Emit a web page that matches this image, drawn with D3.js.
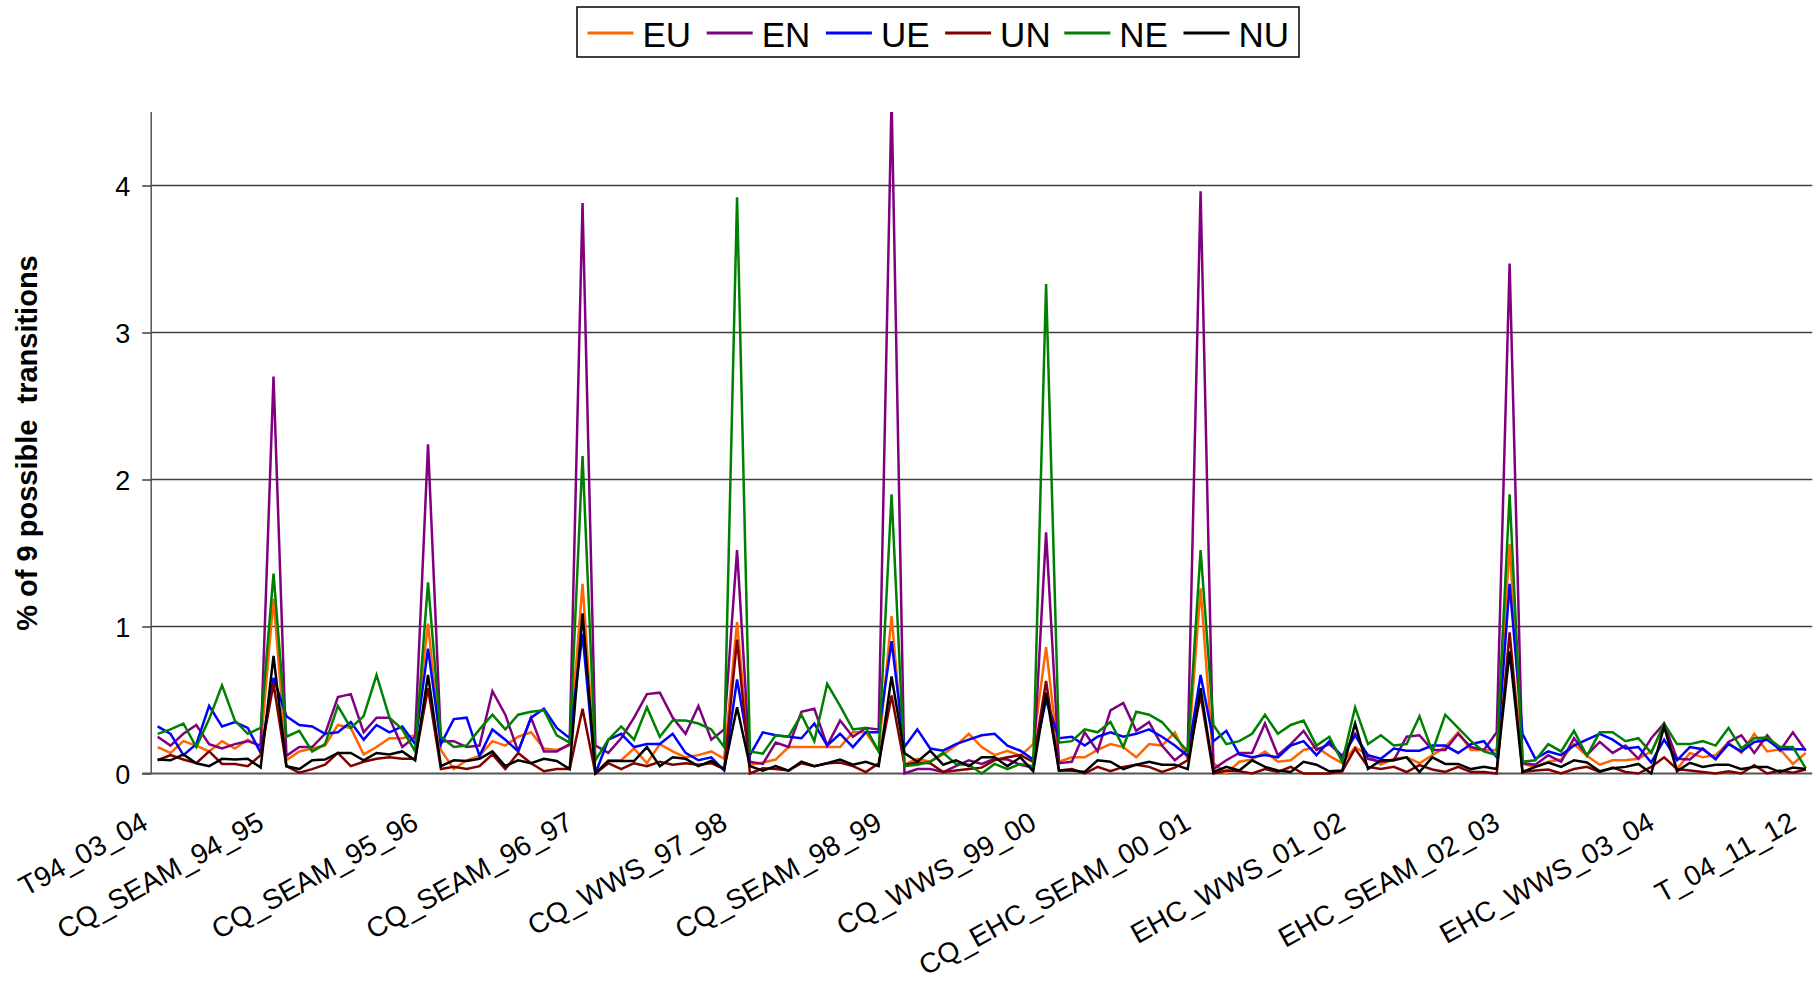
<!DOCTYPE html>
<html>
<head>
<meta charset="utf-8">
<script src="https://cdn.jsdelivr.net/npm/d3@7"></script>
<style>
  body { margin: 0; background: #fff; }
  svg { display: block; font-family: "Liberation Sans", Arial, sans-serif; }
  .grid line { stroke: #404040; stroke-width: 1.5px; }
  .series { fill: none; stroke-width: 2.5px; stroke-linejoin: miter; }
</style>
</head>
<body>
<svg id="chart" width="1813" height="984"></svg>
<script>
var SERIES_NAMES = ["EU", "EN", "UE", "UN", "NE", "NU"];
var SERIES_COLORS = ["#ff6600", "#800080", "#0000ff", "#800000", "#008000", "#000000"];

var TICK_INDEX = [0, 9, 21, 33, 45, 57, 69, 81, 93, 105, 117, 128];
var TICK_LABELS = ["T94_03_04", "CQ_SEAM_94_95", "CQ_SEAM_95_96", "CQ_SEAM_96_97", "CQ_WWS_97_98",
  "CQ_SEAM_98_99", "CQ_WWS_99_00", "CQ_EHC_SEAM_00_01", "EHC_WWS_01_02", "EHC_SEAM_02_03",
  "EHC_WWS_03_04", "T_04_11_12"];

var Y_TICKS = [0, 1, 2, 3, 4];

var EU = [0.18, 0.14, 0.22, 0.19, 0.15, 0.22, 0.17, 0.23, 0.18, 1.19,
  0.09, 0.15, 0.17, 0.19, 0.33, 0.31, 0.13, 0.18, 0.24, 0.24,
  0.26, 1.02, 0.16, 0.03, 0.09, 0.12, 0.22, 0.19, 0.25, 0.28,
  0.17, 0.16, 0.19, 1.29, 0.0, 0.09, 0.09, 0.17, 0.07, 0.20,
  0.15, 0.11, 0.125, 0.15, 0.10, 1.03, 0.06, 0.075, 0.095, 0.18,
  0.18, 0.18, 0.18, 0.18, 0.28, 0.28, 0.15, 1.07, 0.06, 0.10,
  0.08, 0.13, 0.19, 0.27, 0.18, 0.125, 0.155, 0.12, 0.20, 0.86,
  0.08, 0.11, 0.11, 0.16, 0.20, 0.18, 0.11, 0.20, 0.19, 0.28,
  0.10, 1.26, 0.07, 0.0, 0.08, 0.095, 0.15, 0.08, 0.09, 0.16,
  0.18, 0.12, 0.07, 0.18, 0.125, 0.06, 0.10, 0.11, 0.07, 0.125,
  0.18, 0.28, 0.16, 0.16, 0.16, 1.56, 0.065, 0.045, 0.08, 0.095,
  0.20, 0.12, 0.06, 0.09, 0.09, 0.10, 0.15, 0.32, 0.03, 0.14,
  0.11, 0.125, 0.21, 0.14, 0.27, 0.15, 0.165, 0.065, 0.14];

var EN = [0.25, 0.19, 0.27, 0.33, 0.20, 0.17, 0.20, 0.22, 0.19, 2.70,
  0.12, 0.18, 0.18, 0.27, 0.52, 0.54, 0.28, 0.38, 0.38, 0.18,
  0.25, 2.24, 0.22, 0.22, 0.18, 0.19, 0.56, 0.40, 0.15, 0.38,
  0.15, 0.15, 0.20, 3.88, 0.19, 0.14, 0.24, 0.38, 0.54, 0.55,
  0.38, 0.27, 0.46, 0.23, 0.30, 1.52, 0.08, 0.065, 0.21, 0.18,
  0.42, 0.44, 0.19, 0.36, 0.25, 0.31, 0.30, 4.6, 0.0, 0.03,
  0.03, 0.01, 0.05, 0.09, 0.065, 0.10, 0.095, 0.06, 0.04, 1.64,
  0.07, 0.08, 0.28, 0.15, 0.43, 0.48, 0.29, 0.35, 0.19, 0.09,
  0.16, 3.96, 0.03, 0.09, 0.14, 0.14, 0.34, 0.125, 0.20, 0.29,
  0.16, 0.20, 0.12, 0.27, 0.10, 0.08, 0.09, 0.25, 0.26, 0.16,
  0.16, 0.27, 0.18, 0.16, 0.28, 3.47, 0.07, 0.06, 0.125, 0.08,
  0.24, 0.125, 0.215, 0.14, 0.19, 0.10, 0.24, 0.34, 0.10, 0.095,
  0.17, 0.095, 0.215, 0.26, 0.14, 0.26, 0.155, 0.28, 0.155];

var UE = [0.32, 0.27, 0.125, 0.20, 0.46, 0.32, 0.35, 0.31, 0.14, 0.65,
  0.39, 0.33, 0.32, 0.27, 0.28, 0.35, 0.23, 0.33, 0.28, 0.32,
  0.20, 0.85, 0.20, 0.37, 0.38, 0.12, 0.30, 0.23, 0.15, 0.38,
  0.44, 0.31, 0.24, 0.95, 0.0, 0.23, 0.27, 0.18, 0.20, 0.20,
  0.27, 0.14, 0.09, 0.11, 0.02, 0.64, 0.125, 0.28, 0.26, 0.25,
  0.24, 0.34, 0.19, 0.27, 0.18, 0.28, 0.28, 0.90, 0.18, 0.30,
  0.17, 0.155, 0.20, 0.23, 0.26, 0.27, 0.19, 0.155, 0.095, 0.50,
  0.24, 0.25, 0.19, 0.25, 0.28, 0.25, 0.27, 0.30, 0.25, 0.19,
  0.12, 0.67, 0.22, 0.29, 0.13, 0.11, 0.125, 0.11, 0.19, 0.22,
  0.125, 0.22, 0.11, 0.26, 0.125, 0.10, 0.17, 0.155, 0.155, 0.19,
  0.19, 0.14, 0.20, 0.22, 0.11, 1.29, 0.27, 0.10, 0.15, 0.125,
  0.19, 0.23, 0.27, 0.23, 0.17, 0.18, 0.075, 0.23, 0.09, 0.18,
  0.165, 0.10, 0.20, 0.15, 0.215, 0.23, 0.165, 0.165, 0.165];

var UN = [0.09, 0.125, 0.095, 0.07, 0.15, 0.065, 0.065, 0.05, 0.125, 0.61,
  0.05, 0.005, 0.03, 0.06, 0.14, 0.05, 0.08, 0.10, 0.11, 0.10,
  0.10, 0.58, 0.03, 0.045, 0.03, 0.05, 0.13, 0.03, 0.14, 0.07,
  0.015, 0.03, 0.03, 0.44, 0.0, 0.07, 0.03, 0.07, 0.05, 0.08,
  0.06, 0.07, 0.06, 0.07, 0.03, 0.91, 0.0, 0.035, 0.03, 0.02,
  0.07, 0.05, 0.07, 0.075, 0.05, 0.01, 0.07, 0.53, 0.06, 0.075,
  0.07, 0.01, 0.02, 0.03, 0.04, 0.09, 0.11, 0.125, 0.08, 0.63,
  0.02, 0.03, 0.0, 0.045, 0.015, 0.045, 0.06, 0.045, 0.01, 0.04,
  0.09, 0.53, 0.0, 0.02, 0.015, 0.0, 0.03, 0.01, 0.045, 0.0,
  0.0, 0.0, 0.015, 0.17, 0.045, 0.03, 0.045, 0.01, 0.057, 0.027,
  0.01, 0.045, 0.01, 0.01, 0.0, 0.96, 0.01, 0.02, 0.027, 0.0,
  0.03, 0.045, 0.01, 0.04, 0.01, 0.0, 0.045, 0.11, 0.03, 0.02,
  0.01, 0.0, 0.015, 0.0, 0.057, 0.0, 0.02, 0.005, 0.027];

var NE = [0.27, 0.30, 0.34, 0.18, 0.37, 0.60, 0.36, 0.27, 0.31, 1.36,
  0.25, 0.29, 0.15, 0.20, 0.46, 0.31, 0.39, 0.67, 0.38, 0.30,
  0.15, 1.30, 0.25, 0.18, 0.19, 0.30, 0.40, 0.30, 0.40, 0.42,
  0.43, 0.26, 0.21, 2.16, 0.09, 0.23, 0.32, 0.23, 0.45, 0.25,
  0.36, 0.36, 0.34, 0.30, 0.18, 3.92, 0.15, 0.135, 0.26, 0.25,
  0.40, 0.22, 0.61, 0.46, 0.30, 0.31, 0.15, 1.90, 0.05, 0.06,
  0.08, 0.14, 0.065, 0.06, 0.0, 0.065, 0.03, 0.065, 0.05, 3.33,
  0.21, 0.22, 0.30, 0.28, 0.35, 0.18, 0.42, 0.40, 0.35, 0.25,
  0.15, 1.52, 0.33, 0.20, 0.22, 0.27, 0.40, 0.27, 0.33, 0.36,
  0.19, 0.25, 0.08, 0.45, 0.20, 0.26, 0.19, 0.20, 0.39, 0.15,
  0.40, 0.31, 0.22, 0.15, 0.125, 1.90, 0.08, 0.09, 0.20, 0.15,
  0.29, 0.12, 0.28, 0.28, 0.22, 0.24, 0.14, 0.34, 0.20, 0.20,
  0.22, 0.19, 0.31, 0.17, 0.24, 0.245, 0.18, 0.18, 0.035];

var NU = [0.095, 0.09, 0.13, 0.07, 0.05, 0.10, 0.095, 0.10, 0.04, 0.80,
  0.05, 0.03, 0.09, 0.095, 0.14, 0.14, 0.09, 0.14, 0.13, 0.15,
  0.09, 0.67, 0.05, 0.09, 0.085, 0.10, 0.15, 0.05, 0.09, 0.07,
  0.10, 0.085, 0.03, 1.09, 0.0, 0.085, 0.085, 0.085, 0.18, 0.05,
  0.11, 0.10, 0.05, 0.085, 0.03, 0.45, 0.05, 0.02, 0.05, 0.02,
  0.08, 0.05, 0.07, 0.095, 0.06, 0.08, 0.05, 0.66, 0.14, 0.08,
  0.155, 0.06, 0.09, 0.05, 0.11, 0.11, 0.05, 0.11, 0.015, 0.55,
  0.02, 0.02, 0.01, 0.09, 0.08, 0.03, 0.06, 0.08, 0.06, 0.06,
  0.03, 0.58, 0.01, 0.045, 0.02, 0.09, 0.045, 0.02, 0.01, 0.08,
  0.06, 0.015, 0.02, 0.34, 0.03, 0.09, 0.09, 0.11, 0.01, 0.11,
  0.065, 0.065, 0.03, 0.045, 0.03, 0.83, 0.01, 0.045, 0.075, 0.045,
  0.09, 0.075, 0.015, 0.035, 0.045, 0.065, 0.0, 0.32, 0.015, 0.073,
  0.045, 0.06, 0.06, 0.03, 0.045, 0.045, 0.01, 0.04, 0.03];

document.addEventListener("DOMContentLoaded", function() {
  drawChart();
})

function drawChart(){
  const svg = d3.select("#chart");
  const left = 151.2, right = 1812.2, top = 112, bottom = 773.5;
  const allSeries = [EU, EN, UE, UN, NE, NU];

  const x = d3.scalePoint()
    .domain(d3.range(EU.length))
    .range([left, right])
    .padding(0.5);

  const y = d3.scaleLinear()
    .domain([0, 4.5])
    .range([bottom, top]);

  // gridlines (no line at the 4.5 top)
  svg.append("g")
    .attr("class", "grid")
    .selectAll("line")
    .data(Y_TICKS.filter((d) => d > 0))
    .enter()
    .append("line")
    .attr("x1", left)
    .attr("x2", right)
    .attr("y1", (d) => y(d))
    .attr("y2", (d) => y(d));

  // y axis with outside ticks
  const yAxis = d3.axisLeft(y)
    .tickValues(Y_TICKS)
    .tickSize(9)
    .tickPadding(12)
    .tickFormat(d3.format("d"));

  const yg = svg.append("g")
    .attr("transform", "translate(" + left + ",0)")
    .call(yAxis);
  yg.select(".domain").attr("stroke", "#555").attr("stroke-width", 1.5)
    .attr("d", "M0," + top + "V" + bottom);
  yg.selectAll(".tick line").attr("stroke", "#404040").attr("stroke-width", 1.5);
  yg.selectAll(".tick text")
    .attr("font-size", "27px")
    .attr("font-family", "Liberation Sans, Arial, sans-serif")
    .attr("fill", "#000")
    .attr("dy", "0.36em");

  // x axis line
  svg.append("line")
    .attr("x1", left - 9)
    .attr("x2", right)
    .attr("y1", y(0))
    .attr("y2", y(0))
    .attr("stroke", "#555")
    .attr("stroke-width", 2);

  // category labels
  svg.append("g")
    .selectAll("text")
    .data(TICK_INDEX)
    .enter()
    .append("text")
    .attr("transform", (d) => ("translate(" + (x(d) - 8) + ",828) rotate(-29)"))
    .attr("text-anchor", "end")
    .attr("font-size", "28px")
    .text((d, i) => TICK_LABELS[i]);

  // y title
  svg.append("text")
    .attr("transform", "translate(37,443) rotate(-90)")
    .attr("text-anchor", "middle")
    .attr("font-size", "29px")
    .attr("font-weight", "bold")
    .style("white-space", "pre")
    .text("% of 9 possible  transitions");

  // series lines
  svg.append("clipPath")
    .attr("id", "plot-clip")
    .append("rect")
    .attr("x", left)
    .attr("y", top)
    .attr("width", right - left + 2)
    .attr("height", bottom - top + 2);

  const line = d3.line()
    .x((d, i) => x(i))
    .y((d) => y(d));

  svg.append("g")
    .attr("clip-path", "url(#plot-clip)")
    .selectAll("path")
    .data(allSeries)
    .enter()
    .append("path")
    .attr("class", "series")
    .attr("stroke", (d, i) => SERIES_COLORS[i])
    .attr("d", line);

  // legend
  const legend = svg.append("g");
  legend.append("rect")
    .attr("x", 577)
    .attr("y", 7)
    .attr("width", 722)
    .attr("height", 50)
    .attr("fill", "#fff")
    .attr("stroke", "#000")
    .attr("stroke-width", 1.5);

  const item = legend.selectAll(".item")
    .data(SERIES_NAMES)
    .enter()
    .append("g")
    .attr("class", "item")
    .attr("transform", (d, i) => ("translate(" + (587.5 + i * 119.2) + ",0)"));

  item.append("line")
    .attr("x1", 0)
    .attr("x2", 46)
    .attr("y1", 33)
    .attr("y2", 33)
    .attr("stroke", (d, i) => SERIES_COLORS[i])
    .attr("stroke-width", 3);

  item.append("text")
    .attr("x", 55)
    .attr("y", 46.5)
    .attr("font-size", "35px")
    .text((d) => d);
}
</script>
</body>
</html>
